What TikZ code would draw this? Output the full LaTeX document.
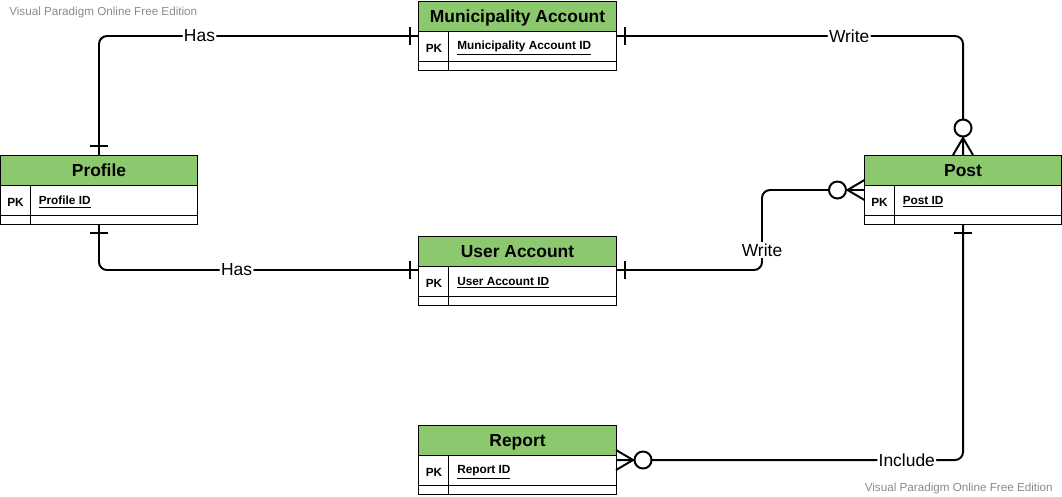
\documentclass[tikz,border=0pt]{standalone}
\usepackage{fontspec}
\setmainfont{Liberation Sans}
\usetikzlibrary{positioning}
\usetikzlibrary{calc}
\definecolor{headgreen}{HTML}{8CC96E}
\definecolor{markgray}{HTML}{8A8A8A}
\tikzset{>=latex}
\tikzset{
  head/.style = {draw, fill = headgreen, line width = 0.7pt, minimum width = 4.925cm, minimum height = 0.75cm, inner sep = 0pt, outer sep = 0pt, text depth = 0pt, font = \fontsize{12.4}{14}\selectfont\bfseries},
  keyrow/.style = {draw, fill = white, line width = 0.7pt, minimum width = 4.925cm, minimum height = 0.75cm, inner sep = 0pt, outer sep = 0pt},
  blankrow/.style = {draw, fill = white, line width = 0.7pt, minimum width = 4.925cm, minimum height = 0.225cm, inner sep = 0pt, outer sep = 0pt},
  keytext/.style = {font = \fontsize{8.4}{10}\selectfont\bfseries, inner sep = 0pt},
  conn/.style = {line width = 1.4pt},
  rel/.style = {fill = white, inner sep = 1pt, font = \fontsize{12.4}{14}\selectfont},
  wmark/.style = {text = markgray, inner sep = 0pt, font = \fontsize{8.3}{10}\selectfont}
}

\begin{document}
\begin{tikzpicture}[x = 0.025cm, y = 0.025cm]

\useasboundingbox (0,0) rectangle (1062,-496);

\node[wmark, anchor = west] (wmtop) at (9, -12) {Visual Paradigm Online Free Edition};
\node[wmark, anchor = east] (wmbottom) at (1053, -488) {Visual Paradigm Online Free Edition};

% Municipality Account
\node[head] (munihead) at (517.5, -16) {Municipality Account};
\node[keyrow, below = 0pt of munihead] (munikey) {};
\node[blankrow, below = 0pt of munikey] (muniblank) {};
\draw[line width = 0.7pt] ($(munikey.north west)+(30,0)$) -- ($(muniblank.south west)+(30,0)$);
\node[keytext] (munipk) at ($(munikey.west)+(15,-2)$) {PK};
\node[keytext, anchor = west] (muniid) at ($(munikey.west)+(38,-2)$) {\underline{Municipality Account ID}};

% Profile
\node[head] (profhead) at (99, -170) {Profile};
\node[keyrow, below = 0pt of profhead] (profkey) {};
\node[blankrow, below = 0pt of profkey] (profblank) {};
\draw[line width = 0.7pt] ($(profkey.north west)+(30,0)$) -- ($(profblank.south west)+(30,0)$);
\node[keytext] (profpk) at ($(profkey.west)+(15,-2)$) {PK};
\node[keytext, anchor = west] (profid) at ($(profkey.west)+(38,-2)$) {\underline{Profile ID}};

% User Account
\node[head] (userhead) at (517.5, -251) {User Account};
\node[keyrow, below = 0pt of userhead] (userkey) {};
\node[blankrow, below = 0pt of userkey] (userblank) {};
\draw[line width = 0.7pt] ($(userkey.north west)+(30,0)$) -- ($(userblank.south west)+(30,0)$);
\node[keytext] (userpk) at ($(userkey.west)+(15,-2)$) {PK};
\node[keytext, anchor = west] (userid) at ($(userkey.west)+(38,-2)$) {\underline{User Account ID}};

% Post
\node[head] (posthead) at (963, -170) {Post};
\node[keyrow, below = 0pt of posthead] (postkey) {};
\node[blankrow, below = 0pt of postkey] (postblank) {};
\draw[line width = 0.7pt] ($(postkey.north west)+(30,0)$) -- ($(postblank.south west)+(30,0)$);
\node[keytext] (postpk) at ($(postkey.west)+(15,-2)$) {PK};
\node[keytext, anchor = west] (postid) at ($(postkey.west)+(38,-2)$) {\underline{Post ID}};

% Report
\node[head] (rephead) at (517.5, -440) {Report};
\node[keyrow, below = 0pt of rephead] (repkey) {};
\node[blankrow, below = 0pt of repkey] (repblank) {};
\draw[line width = 0.7pt] ($(repkey.north west)+(30,0)$) -- ($(repblank.south west)+(30,0)$);
\node[keytext] (reppk) at ($(repkey.west)+(15,-2)$) {PK};
\node[keytext, anchor = west] (repid) at ($(repkey.west)+(38,-2)$) {\underline{Report ID}};

\coordinate (muniL) at ($(munikey.north west)+(0,-5)$);
\coordinate (muniR) at ($(munikey.north east)+(0,-5)$);
\coordinate (userL) at ($(userkey.north west)+(0,-4)$);
\coordinate (userR) at ($(userkey.north east)+(0,-4)$);
\coordinate (postL) at ($(postkey.north west)+(0,-5)$);
\coordinate (repR) at ($(repkey.north east)+(0,-5)$);
\coordinate (bend) at (762, -250);

\draw[conn, rounded corners = 0.2cm] (profhead.north) |- node[rel, pos = 0.657] (has1) {Has} (muniL);
\draw[conn, rounded corners = 0.2cm] (profblank.south) |- node[rel, pos = 0.715] (has2) {Has} (userL);
\draw[conn, rounded corners = 0.2cm] (muniR) -| node[rel, pos = 0.336] (write1) {Write} (posthead.north);
\draw[conn, rounded corners = 0.2cm] (userR) -| (bend) |- (postL);
\node[rel] (write2) at (bend) {Write};
\draw[conn, rounded corners = 0.2cm] (repR) -| node[rel, pos = 0.419] (include) {Include} (postblank.south);

\draw[conn] ($(profhead.north)+(-9,9)$) -- ($(profhead.north)+(9,9)$);
\draw[conn] ($(muniL)+(-9,-9)$) -- ($(muniL)+(-9,9)$);
\draw[conn] ($(profblank.south)+(-9,-9)$) -- ($(profblank.south)+(9,-9)$);
\draw[conn] ($(userL)+(-9,-9)$) -- ($(userL)+(-9,9)$);
\draw[conn] ($(muniR)+(9,-9)$) -- ($(muniR)+(9,9)$);
\draw[conn] ($(userR)+(9,-9)$) -- ($(userR)+(9,9)$);
\draw[conn] ($(postblank.south)+(-9,-9)$) -- ($(postblank.south)+(9,-9)$);

\draw[conn, fill = white] ($(posthead.north)+(0,27)$) circle (0.2125cm);
\draw[conn] ($(posthead.north)+(-10,0)$) -- ($(posthead.north)+(0,17)$) -- ($(posthead.north)+(10,0)$);

\draw[conn, fill = white] ($(postL)+(-27,0)$) circle (0.2125cm);
\draw[conn] ($(postL)+(0,10)$) -- ($(postL)+(-17,0)$) -- ($(postL)+(0,-10)$);

\draw[conn, fill = white] ($(repR)+(27,0)$) circle (0.2125cm);
\draw[conn] ($(repR)+(0,10)$) -- ($(repR)+(17,0)$) -- ($(repR)+(0,-10)$);

\end{tikzpicture}
\end{document}
